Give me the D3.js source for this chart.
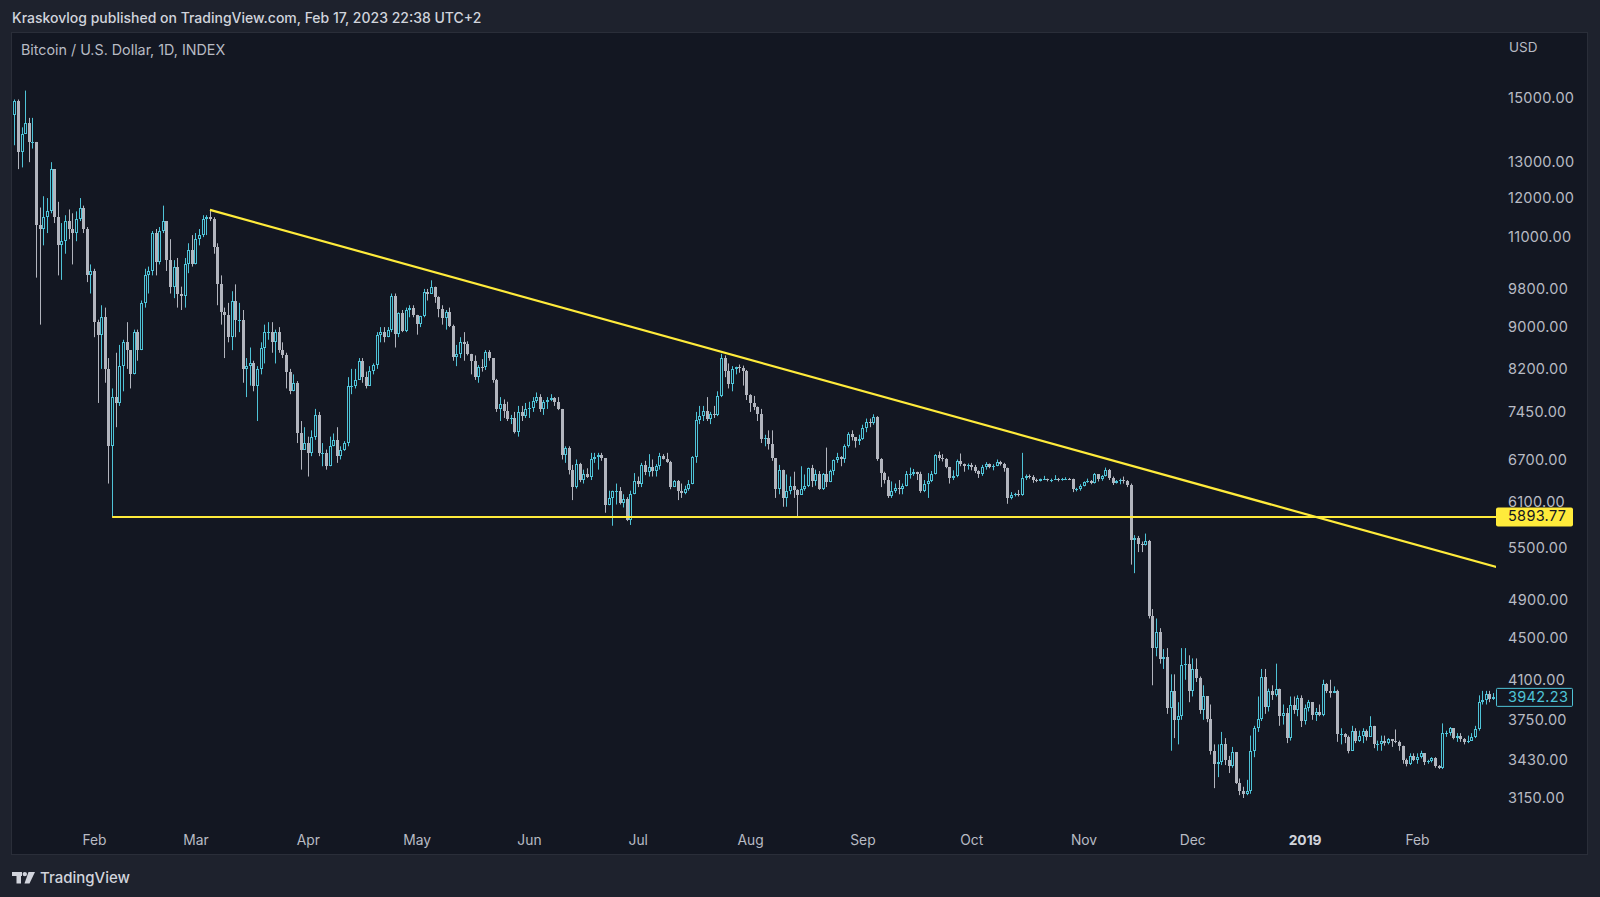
<!DOCTYPE html>
<html><head><meta charset="utf-8">
<script src="https://cdn.jsdelivr.net/npm/d3@7"></script>
<style>
html,body{margin:0;padding:0;background:#1e222d;overflow:hidden;}
svg{display:block;font-family:Inter,"Noto Sans",Roboto,sans-serif;}
</style></head><body>
<svg id="c" width="1600" height="897"></svg>
<script>
// ---- DATA (Bitcoin / U.S. Dollar, 1D, INDEX) ----
const startDate = "2018-01-10";   // first daily candle
const firstOpen = 14450;          // open of the first candle; later opens = previous close
const closes = [
  14900,13300,13850,14200,13600,13600,11300,11200,11500,11650,12800,11500,10800,10900,11400,11200,11100,11450,11750,11200,10100,10200,
  9100,8850,9200,8200,6900,7700,7600,8250,8700,8550,8100,8900,8550,9500,10100,10200,11100,10400,11150,11400,10450,9850,10300,9700,9650,10350,10700,10350,
  10950,11050,11450,11500,11450,10750,9900,9300,9250,8800,9550,9150,9150,8200,8250,8300,7900,8200,8600,8900,8900,8700,8900,8550,8450,8150,7800,7950,7100,6850,6950,
  6800,7050,7400,6800,6800,6600,6900,7000,6750,6850,6950,7900,7900,8000,8350,8050,7900,8160,8280,8850,8900,8800,8950,9650,8870,9280,8930,9350,9400,9240,
  9070,9220,9740,9700,9850,9630,9370,9180,9310,9020,8420,8480,8710,8670,8470,8350,8050,8240,8230,8520,8400,8000,7500,7580,7460,7340,7350,7120,7450,7380,7490,
  7520,7640,7710,7490,7620,7650,7680,7620,7500,6770,6880,6550,6300,6640,6400,6490,6450,6710,6740,6760,6720,6050,6150,6250,6250,6080,6130,5850,6200,6390,
  6350,6620,6510,6590,6530,6600,6750,6710,6660,6300,6390,6250,6220,6270,6350,6740,7320,7380,7470,7330,7410,7400,7720,8400,8170,7930,8190,8230,8210,8170,7730,
  7600,7530,7410,7010,7030,6940,6720,6280,6540,6150,6240,6320,6260,6190,6270,6310,6580,6390,6490,6270,6480,6370,6530,6690,6740,6700,6910,7090,7040,6980,7020,
  7190,7280,7260,7360,6700,6500,6400,6180,6240,6290,6280,6320,6480,6480,6520,6490,6250,6340,6390,6490,6760,6720,6700,6590,6430,6460,6680,6630,6610,6620,
  6590,6530,6480,6590,6640,6590,6610,6670,6640,6570,6150,6190,6200,6190,6430,6460,6450,6400,6390,6410,6420,6400,6400,6420,6400,6410,6420,6410,6270,6270,6320,
  6370,6380,6360,6480,6410,6460,6550,6430,6360,6390,6400,6380,6330,5600,5620,5550,5540,5590,4730,4400,4560,4290,4310,3850,4000,3750,3780,4240,4250,4000,
  4200,4120,3830,3950,3760,3500,3400,3410,3550,3430,3380,3490,3260,3200,3180,3200,3500,3680,3760,4130,3860,4000,3960,4020,3780,3810,3600,3880,3830,3940,3740,
  3850,3900,3790,3820,3790,4060,4000,3980,4000,3630,3630,3610,3500,3660,3580,3620,3660,3610,3700,3550,3550,3580,3560,3590,3580,3570,3540,3430,3400,3460,3430,
  3450,3480,3410,3420,3440,3380,3370,3640,3640,3680,3600,3620,3590,3570,3580,3610,3670,3900,3920,3970,3930,3942.23
];
const highs = [
  14950,14950,14050,15250,14350,14350,13600,11750,12050,12000,13000,12800,11900,11350,11550,11700,11600,11650,12000,11800,11250,10350,
  10250,9150,9450,9400,8400,7850,8500,8650,8750,9100,8550,8950,8950,9550,10250,10300,11150,11200,11250,11800,11300,10950,10450,10500,9850,10500,10850,11050,
  11100,11200,11550,11550,11690,11500,10850,10100,9400,9500,9750,9900,9500,9350,8400,8600,8350,8250,8700,9050,9100,9100,8950,9000,8700,8500,8200,8100,7980,7300,7200,
  7050,7150,7500,7450,6950,6850,7050,7100,7200,6900,6980,8050,8200,8200,8400,8400,8150,8250,8300,8900,9000,9000,9000,9700,9700,9300,9350,9400,9450,9450,
  9250,9230,9800,9800,9990,9850,9640,9450,9350,9400,9050,8650,8800,8900,8720,8480,8450,8270,8380,8550,8550,8400,8020,7700,7660,7620,7400,7450,7550,7550,7600,
  7620,7700,7780,7750,7650,7700,7750,7700,7700,7500,6900,6900,6620,6700,6650,6550,6570,6800,6800,6800,6800,6720,6250,6250,6350,6300,6200,6160,6250,6500,
  6450,6650,6680,6780,6700,6630,6800,6780,6800,6680,6400,6400,6350,6320,6400,6750,7450,7550,7550,7700,7450,7550,7800,8480,8450,8300,8250,8240,8280,8260,8180,
  7750,7720,7540,7500,7080,7150,7150,6720,6620,6550,6480,6450,6520,6270,6600,6480,6580,6620,6550,6530,6500,6880,6550,6700,6800,6750,6930,7120,7150,7030,7080,
  7240,7340,7340,7410,7380,6720,6520,6450,6380,6350,6400,6350,6530,6580,6560,6520,6520,6400,6500,6530,6780,6820,6780,6720,6590,6540,6700,6790,6640,6640,
  6650,6620,6540,6620,6660,6640,6630,6700,6680,6650,6580,6230,6220,6260,6800,6480,6480,6470,6420,6420,6460,6420,6420,6470,6430,6430,6440,6430,6420,6290,6340,
  6380,6420,6400,6500,6480,6470,6580,6560,6450,6400,6420,6450,6400,6350,5660,5650,5580,5680,5600,4800,4700,4600,4390,4400,4150,4150,3900,4400,4400,4330,
  4300,4300,4130,4050,3950,3880,3550,3550,3650,3600,3460,3530,3490,3290,3230,3280,3620,3700,3950,4200,4200,4020,4050,4250,4020,3880,3850,3950,3950,3960,3960,
  3880,3920,3900,3850,3880,4100,4070,4100,4040,4010,3680,3640,3620,3700,3680,3660,3680,3670,3780,3700,3580,3620,3620,3600,3590,3670,3580,3540,3440,3480,3480,
  3480,3500,3480,3430,3450,3450,3390,3720,3660,3690,3680,3640,3640,3600,3620,3640,3700,3960,4000,4000,4000,3980
];
const lows = [
  13500,12800,12850,13850,13000,13400,10050,9050,10800,11100,11600,11350,10100,10000,10600,10950,10350,10900,11400,11100,9950,9700,
  8800,7600,8200,7950,6350,5893.77,7200,7550,7800,8200,7850,8100,8350,8550,9400,9700,10100,10100,10350,11100,10200,9700,9600,9400,9350,9400,10150,10300,
  10350,10800,11000,11050,11400,10600,9450,9050,8400,8700,8550,8800,8900,7950,7700,7900,7800,7300,8100,8300,8750,8500,8300,8500,8400,7850,7750,7800,6950,6550,6850,
  6450,6750,7000,6750,6600,6550,6600,6900,6650,6700,6830,6900,7750,7850,8000,7950,7850,7900,8100,8200,8700,8700,8800,8900,8600,8800,8900,8900,9200,9200,
  8850,9000,9200,9550,9700,9500,9200,9050,8950,9000,8350,8250,8400,8350,8450,8100,8000,7950,8150,8180,8350,7950,7450,7300,7350,7300,7250,7100,7050,7300,7350,
  7350,7450,7600,7450,7400,7500,7630,7550,7480,6700,6650,6480,6120,6280,6370,6350,6430,6400,6650,6550,6680,5950,6050,5780,6060,6060,6020,5840,5790,6200,
  6300,6300,6470,6450,6450,6450,6550,6700,6650,6270,6300,6120,6150,6200,6250,6340,6650,7250,7300,7300,7250,7350,7380,7700,8050,7850,7800,8100,8130,7900,7650,
  7450,7480,7300,6950,6900,6850,6680,6150,6200,6030,6030,6200,6150,5880,6200,6250,6300,6300,6320,6260,6260,6300,6370,6470,6650,6600,6650,6880,6990,6880,6920,
  7000,7120,7200,7240,6680,6300,6350,6150,6150,6220,6200,6200,6310,6420,6460,6400,6220,6230,6150,6370,6480,6680,6670,6570,6350,6400,6440,6600,6520,6550,
  6540,6500,6430,6460,6550,6570,6540,6600,6610,6520,6070,6130,6170,6170,6180,6400,6420,6360,6370,6380,6400,6380,6370,6400,6380,6390,6400,6400,6230,6240,6250,
  6310,6360,6340,6350,6380,6390,6450,6400,6330,6350,6340,6350,6300,5300,5200,5450,5450,5530,4700,4050,4320,4250,4200,3800,3500,3600,3550,3750,4100,3900,
  3950,4080,3800,3750,3730,3470,3220,3300,3390,3390,3330,3370,3250,3170,3150,3170,3180,3450,3650,3740,3800,3820,3920,3950,3700,3710,3560,3580,3800,3780,3690,
  3710,3820,3750,3740,3780,3780,3980,3940,3980,3570,3550,3560,3480,3500,3560,3570,3560,3580,3610,3520,3500,3500,3540,3550,3530,3560,3500,3400,3380,3390,3420,
  3400,3440,3390,3400,3410,3370,3360,3360,3610,3620,3590,3570,3570,3550,3560,3580,3600,3660,3880,3880,3900,3920
];
const priceTicks = [15000,13000,12000,11000,9800,9000,8200,7450,6700,6100,5500,4900,4500,4100,3750,3430,3150];
const monthTicks = ["2018-02-01","2018-03-01","2018-04-01","2018-05-01","2018-06-01","2018-07-01","2018-08-01",
                    "2018-09-01","2018-10-01","2018-11-01","2018-12-01","2019-01-01","2019-02-01"];
const monthLabels = ["Feb","Mar","Apr","May","Jun","Jul","Aug","Sep","Oct","Nov","Dec","2019","Feb"];
const supportLevel = 5893.77;
const supportStart = "2018-02-06";
const trendStart = ["2018-03-05", 11690];
const trendEnd = ["2019-02-23", 5270];
const lastPrice = 3942.23;
const headerText = "Kraskovlog published on TradingView.com, Feb 17, 2023 22:38 UTC+2";
const titleText = "Bitcoin / U.S. Dollar, 1D, INDEX";

// ---- DRAWING ----
const UP = "#4fc3d7", DOWN = "#b2b5be", YEL = "#ffeb3b", BG = "#131722", OUT = "#1e222d", TXT = "#b8bbc4";
const FONT = "Inter,'Noto Sans',sans-serif";
const svg = d3.select("#c");
const plot = {left: 11, right: 1496, top: 33, bottom: 826};
const pd = s => new Date(s + "T00:00:00Z");

const x = d3.scaleUtc().domain([pd("2018-02-01"), pd("2019-02-01")]).range([94, 1417]);
const y = d3.scaleLog().domain([15000, 3150]).range([98, 798]);

svg.append("rect").attr("width", 1600).attr("height", 897).attr("fill", OUT);
svg.append("rect").attr("x", 11.5).attr("y", 32.5).attr("width", 1576).attr("height", 822)
   .attr("fill", BG).attr("stroke", "#2a2e39");

svg.append("defs").append("clipPath").attr("id", "clip").append("rect")
   .attr("x", plot.left + 1).attr("y", plot.top).attr("width", plot.right - plot.left - 1).attr("height", plot.bottom - plot.top);

const t0 = pd(startDate);
const candles = closes.map((c, i) => ({
  date: d3.utcDay.offset(t0, i), o: i ? closes[i - 1] : firstOpen, h: highs[i], l: lows[i], c
}));

const g = svg.append("g").attr("clip-path", "url(#clip)");
candles.forEach(d => {
  const cx = Math.round(x(d.date));
  const up = d.c >= d.o;
  const col = up ? UP : DOWN;
  const top = Math.round(y(Math.max(d.o, d.c)));
  const bot = Math.round(y(Math.min(d.o, d.c)));
  const yh = y(d.h), yl = y(d.l);
  if (up) {
    if (yh < top) g.append("line").attr("x1", cx + 0.5).attr("x2", cx + 0.5).attr("y1", yh).attr("y2", top).attr("stroke", col);
    if (yl > bot) g.append("line").attr("x1", cx + 0.5).attr("x2", cx + 0.5).attr("y1", bot).attr("y2", yl).attr("stroke", col);
    if (bot - top >= 2) {
      g.append("rect").attr("x", cx - 0.5).attr("y", top + 0.5).attr("width", 2).attr("height", bot - top - 1)
        .attr("fill", "none").attr("stroke", col).attr("shape-rendering", "crispEdges");
    } else {
      g.append("rect").attr("x", cx - 1).attr("y", top).attr("width", 3).attr("height", Math.max(1, bot - top))
        .attr("fill", col).attr("shape-rendering", "crispEdges");
    }
  } else {
    g.append("line").attr("x1", cx + 0.5).attr("x2", cx + 0.5).attr("y1", yh).attr("y2", yl).attr("stroke", col);
    g.append("rect").attr("x", cx - 1).attr("y", top).attr("width", 3).attr("height", Math.max(1, bot - top))
      .attr("fill", col).attr("shape-rendering", "crispEdges");
  }
});

// drawings
g.append("line")
  .attr("x1", x(pd(supportStart))).attr("x2", plot.right)
  .attr("y1", y(supportLevel)).attr("y2", y(supportLevel))
  .attr("stroke", YEL).attr("stroke-width", 2.2);
g.append("line")
  .attr("x1", x(pd(trendStart[0]))).attr("y1", y(trendStart[1]))
  .attr("x2", x(pd(trendEnd[0]))).attr("y2", y(trendEnd[1]))
  .attr("stroke", YEL).attr("stroke-width", 2.2);

// price axis
const ay = svg.append("g").attr("transform", `translate(${plot.right},0)`)
  .call(d3.axisRight(y).tickValues(priceTicks).tickFormat(d3.format(".2f")).tickSize(0).tickPadding(12));
ay.select(".domain").remove();
ay.selectAll("text").attr("fill", TXT).attr("font-size", 14.5).attr("letter-spacing", 0.3).attr("font-family", FONT);

svg.append("text").attr("x", 1509).attr("y", 48).attr("dominant-baseline", "middle")
  .attr("fill", TXT).attr("font-size", 13.5).attr("font-family", FONT).text("USD");

// price labels
const ys = y(supportLevel);
svg.append("rect").attr("x", 1496).attr("y", ys - 9.5).attr("width", 77).attr("height", 19).attr("rx", 2).attr("fill", YEL);
svg.append("text").attr("x", 1508).attr("y", ys + 0.5).attr("dominant-baseline", "middle")
  .attr("fill", "#131722").attr("font-size", 14.5).attr("letter-spacing", 0.3).text(supportLevel.toFixed(2));
const yp = y(lastPrice);
svg.append("rect").attr("x", 1496.5).attr("y", yp - 9).attr("width", 76).attr("height", 18).attr("rx", 1)
  .attr("fill", BG).attr("stroke", UP);
svg.append("text").attr("x", 1508).attr("y", yp + 0.5).attr("dominant-baseline", "middle")
  .attr("fill", UP).attr("font-size", 14.5).attr("letter-spacing", 0.3).text(lastPrice.toFixed(2));

// time axis
const ax = svg.append("g").attr("transform", `translate(0,${plot.bottom})`)
  .call(d3.axisBottom(x).tickValues(monthTicks.map(pd)).tickSize(0).tickPadding(9)
        .tickFormat((d, i) => monthLabels[i]));
ax.select(".domain").remove();
ax.selectAll("text").attr("font-size", 13.8).attr("font-family", FONT)
  .attr("font-weight", (d, i) => monthLabels[i] === "2019" ? 700 : 400)
  .attr("fill", (d, i) => monthLabels[i] === "2019" ? "#d1d4dc" : TXT);

// header & title
svg.append("text").attr("x", 12).attr("y", 19.5).attr("dominant-baseline", "middle")
  .attr("fill", "#d1d4dc").attr("font-size", 14).attr("font-weight", 500).text(headerText);
svg.append("text").attr("x", 21).attr("y", 51.5).attr("dominant-baseline", "middle")
  .attr("fill", TXT).attr("font-size", 14.3).text(titleText);

// TradingView logo
const lg = svg.append("g").attr("fill", "#d1d4dc");
lg.append("rect").attr("x", 12).attr("y", 872).attr("width", 10).attr("height", 4);
lg.append("rect").attr("x", 16.5).attr("y", 872).attr("width", 4.5).attr("height", 11.5);
lg.append("circle").attr("cx", 24.8).attr("cy", 874.1).attr("r", 2.2);
lg.append("path").attr("d", "M28.5,872 L35,872 L29.5,883.5 L24.5,883.5 Z");
svg.append("text").attr("x", 40).attr("y", 878.5).attr("dominant-baseline", "middle")
  .attr("fill", "#d1d4dc").attr("font-size", 15).attr("font-weight", 500).text("TradingView");
</script>
</body></html>
